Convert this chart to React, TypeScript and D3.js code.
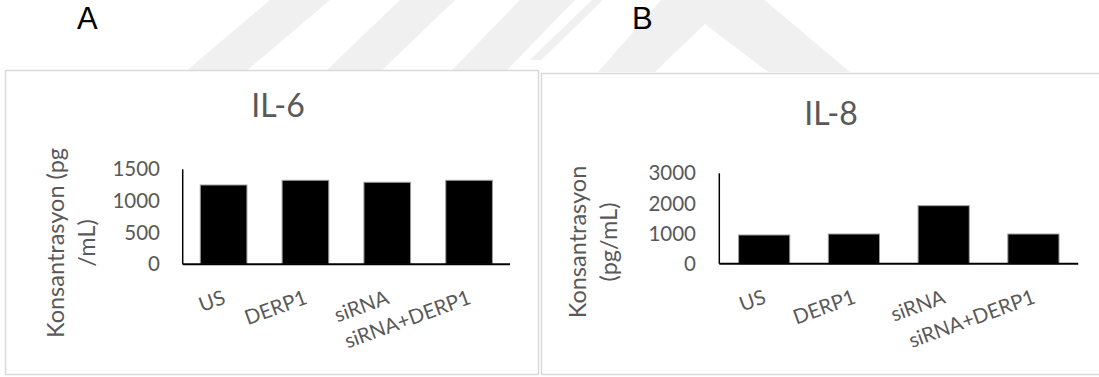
import React from "react";
import * as d3 from "d3";

const categories = ["US", "DERP1", "siRNA", "siRNA+DERP1"];
const il6Values = [1252, 1326, 1295, 1326];
const il8Values = [952, 985, 1925, 985];
const il6Ticks = [0, 500, 1000, 1500];
const il8Ticks = [0, 1000, 2000, 3000];

const FONT = "Lato, 'Open Sans', sans-serif";
const GRAY = "#595959";

type PanelProps = {
  title: string;
  values: number[];
  ticks: number[];
  yMax: number;
  plotLeft: number;
  plotRight: number;
  plotTop: number;
  plotBottom: number;
  tickRight: number;
  titleX: number;
  titleY: number;
  yTitleLines: string[];
  yTitleX: number;
  yTitleY: number;
};

function Panel(p: PanelProps) {
  const x = d3
    .scaleBand<string>()
    .domain(categories)
    .range([p.plotLeft, p.plotRight])
    .paddingInner(0.43)
    .paddingOuter(0.215);
  const y = d3.scaleLinear().domain([0, p.yMax]).range([p.plotBottom, p.plotTop]);
  return (
    <g>
      <text x={p.titleX} y={p.titleY} textAnchor="middle" fontFamily={FONT} fontSize={32} fill={GRAY}>
        {p.title}
      </text>
      {p.yTitleLines.map((l, i) => (
        <text
          key={l}
          transform={`translate(${p.yTitleX + i * 31},${p.yTitleY}) rotate(-90)`}
          textAnchor="middle"
          fontFamily={FONT}
          fontSize={23.5}
          fill={GRAY}
        >
          {l}
        </text>
      ))}
      {p.ticks.map((t) => (
        <text
          key={t}
          x={p.tickRight}
          y={y(t)}
          dy="0.35em"
          textAnchor="end"
          fontFamily={FONT}
          fontSize={20.5}
          fill={GRAY}
        >
          {t}
        </text>
      ))}
      {categories.map((c, i) => (
        <rect
          key={c}
          x={x(c)}
          y={y(p.values[i])}
          width={x.bandwidth()}
          height={y(0) - y(p.values[i])}
          fill="#000"
          stroke="#9a9a9a"
          strokeWidth={1}
        />
      ))}
      <line x1={p.plotLeft} x2={p.plotLeft} y1={p.plotTop} y2={p.plotBottom} stroke="#000" strokeWidth={1.5} />
      <line x1={p.plotLeft} x2={p.plotRight} y1={p.plotBottom} y2={p.plotBottom} stroke="#000" strokeWidth={2} />
      {categories.map((c) => (
        <text
          key={c}
          transform={`translate(${(x(c) as number) + x.bandwidth() / 2 + 3},${p.plotBottom + 39}) rotate(-20)`}
          textAnchor="end"
          fontFamily={FONT}
          fontSize={20.5}
          fill={GRAY}
        >
          {c}
        </text>
      ))}
    </g>
  );
}

export default function App() {
  return (
    <svg width={1099} height={377} style={{ position: "absolute", left: 0, top: 0, background: "#fff" }}>
      {/* faint watermark */}
      <g fill="#f0f0f0">
        <polygon points="185,72 245,72 330,0 270,0" />
        <polygon points="325,72 380,72 455,0 400,0" />
        <polygon points="450,72 505,72 575,0 520,0" />
        <polygon points="530,60 541,60 603,0 592,0" />
        <polygon points="598,72 655,72 705,24 768,72 850,72 705,-50" />
      </g>
      <text x={77} y={29} fontFamily="'Liberation Sans', Arial, sans-serif" fontSize={31} fill="#000">
        A
      </text>
      <text x={632} y={29} fontFamily="'Liberation Sans', Arial, sans-serif" fontSize={31} fill="#000">
        B
      </text>
      <rect x={5.5} y={70.5} width={533} height={304} fill="#fff" stroke="#d9d9d9" strokeWidth={1.5} />
      <rect x={541.5} y={73.5} width={600} height={301} fill="#fff" stroke="#d9d9d9" strokeWidth={1.5} />
      <Panel
        title="IL-6"
        values={il6Values}
        ticks={il6Ticks}
        yMax={1500}
        plotLeft={182.7}
        plotRight={510}
        plotTop={169.3}
        plotBottom={264.3}
        tickRight={160}
        titleX={278}
        titleY={117}
        yTitleLines={["Konsantrasyon (pg", "/mL)"]}
        yTitleX={64}
        yTitleY={243}
      />
      <Panel
        title="IL-8"
        values={il8Values}
        ticks={il8Ticks}
        yMax={3000}
        plotLeft={719.3}
        plotRight={1078.3}
        plotTop={173.3}
        plotBottom={263.7}
        tickRight={696}
        titleX={831}
        titleY={125}
        yTitleLines={["Konsantrasyon", "(pg/mL)"]}
        yTitleX={586}
        yTitleY={242}
      />
    </svg>
  );
}
